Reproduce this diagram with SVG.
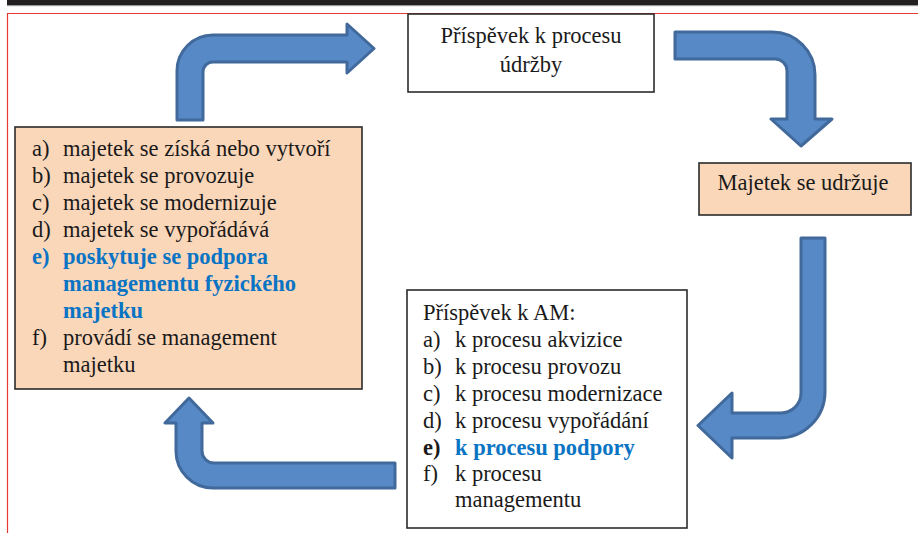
<svg xmlns="http://www.w3.org/2000/svg" width="918" height="533" viewBox="0 0 918 533">
<style>
.t{font-family:"Liberation Serif","Times New Roman",serif;font-size:22.5px;fill:#1a1a1a}
.b{font-weight:bold}
.blue{fill:#0a74c4}
.box{stroke:#2b2b2b;stroke-width:1.6}
.peach{fill:#fbd7ba}
.white{fill:#ffffff}
.arr{fill:#5689c5;stroke:#41699b;stroke-width:3;stroke-linejoin:round}
</style>
<rect x="0" y="0" width="918" height="533" fill="#ffffff"/>
<rect x="7" y="0" width="911" height="5" fill="#231f20"/>
<rect x="7" y="5" width="911" height="1.2" fill="#9a9a9a"/>
<path d="M7.5,533 L7.5,13.5 L918,13.5" fill="none" stroke="#e53935" stroke-width="1.2"/>

<g id="connectors">
<path class="arr" d="M177,120 L177,71 A36,36 0 0 1 213,35 L347,35 L347,24 L374,48.5 L347,73 L347,62 L213,62 A10,10 0 0 0 203,72 L203,120 Z"/>
<path class="arr" d="M675,32 L772,32 A43,43 0 0 1 815,75 L815,119 L832,119 L801,146 L771,119 L787,119 L787,71 A12,12 0 0 0 775,59 L675,59 Z"/>
<path class="arr" d="M801,238 L825,238 L825,392 A46,46 0 0 1 779,438 L732,438 L732,458 L698,425.5 L732,393 L732,413 L781,413 A20,20 0 0 0 801,393 Z"/>
<path class="arr" d="M395,463 L214,463 A12,12 0 0 1 202,451 L202,423 L213,423 L189,398 L165,423 L176,423 L176,451 A37,37 0 0 0 213,488 L395,488 Z"/>
</g>

<g id="udrzba">
<rect class="box white" x="408" y="14" width="246" height="78"/>
<text class="t" x="531" y="43" text-anchor="middle">Příspěvek k procesu</text>
<text class="t" x="531" y="72" text-anchor="middle">údržby</text>
</g>

<g id="udrzuje">
<rect class="box peach" x="699" y="163" width="212" height="52"/>
<text class="t" x="803" y="190" text-anchor="middle">Majetek se udržuje</text>
</g>

<g id="majetek">
<rect class="box peach" x="15" y="127" width="347" height="262"/>
<text class="t" x="32" y="156">a)</text><text class="t" x="63" y="156">majetek se získá nebo vytvoří</text>
<text class="t" x="32" y="183">b)</text><text class="t" x="63" y="183">majetek se provozuje</text>
<text class="t" x="32" y="210">c)</text><text class="t" x="63" y="210">majetek se modernizuje</text>
<text class="t" x="32" y="237">d)</text><text class="t" x="63" y="237">majetek se vypořádává</text>
<text class="t b blue" x="32" y="264">e)</text><text class="t b blue" x="63" y="264">poskytuje se podpora</text>
<text class="t b blue" x="63" y="291">managementu fyzického</text>
<text class="t b blue" x="63" y="318">majetku</text>
<text class="t" x="32" y="345">f)</text><text class="t" x="63" y="345">provádí se management</text>
<text class="t" x="63" y="372">majetku</text>
</g>

<g id="am">
<rect class="box white" x="407" y="290" width="280" height="238"/>
<text class="t" x="423" y="320">Příspěvek k AM:</text>
<text class="t" x="423" y="347">a)</text><text class="t" x="455" y="347">k procesu akvizice</text>
<text class="t" x="423" y="374">b)</text><text class="t" x="455" y="374">k procesu provozu</text>
<text class="t" x="423" y="401">c)</text><text class="t" x="455" y="401">k procesu modernizace</text>
<text class="t" x="423" y="428">d)</text><text class="t" x="455" y="428">k procesu vypořádání</text>
<text class="t b" x="423" y="455">e)</text><text class="t b blue" x="455" y="455">k procesu podpory</text>
<text class="t" x="423" y="481">f)</text><text class="t" x="455" y="481">k procesu</text>
<text class="t" x="455" y="507">managementu</text>
</g>
</svg>
